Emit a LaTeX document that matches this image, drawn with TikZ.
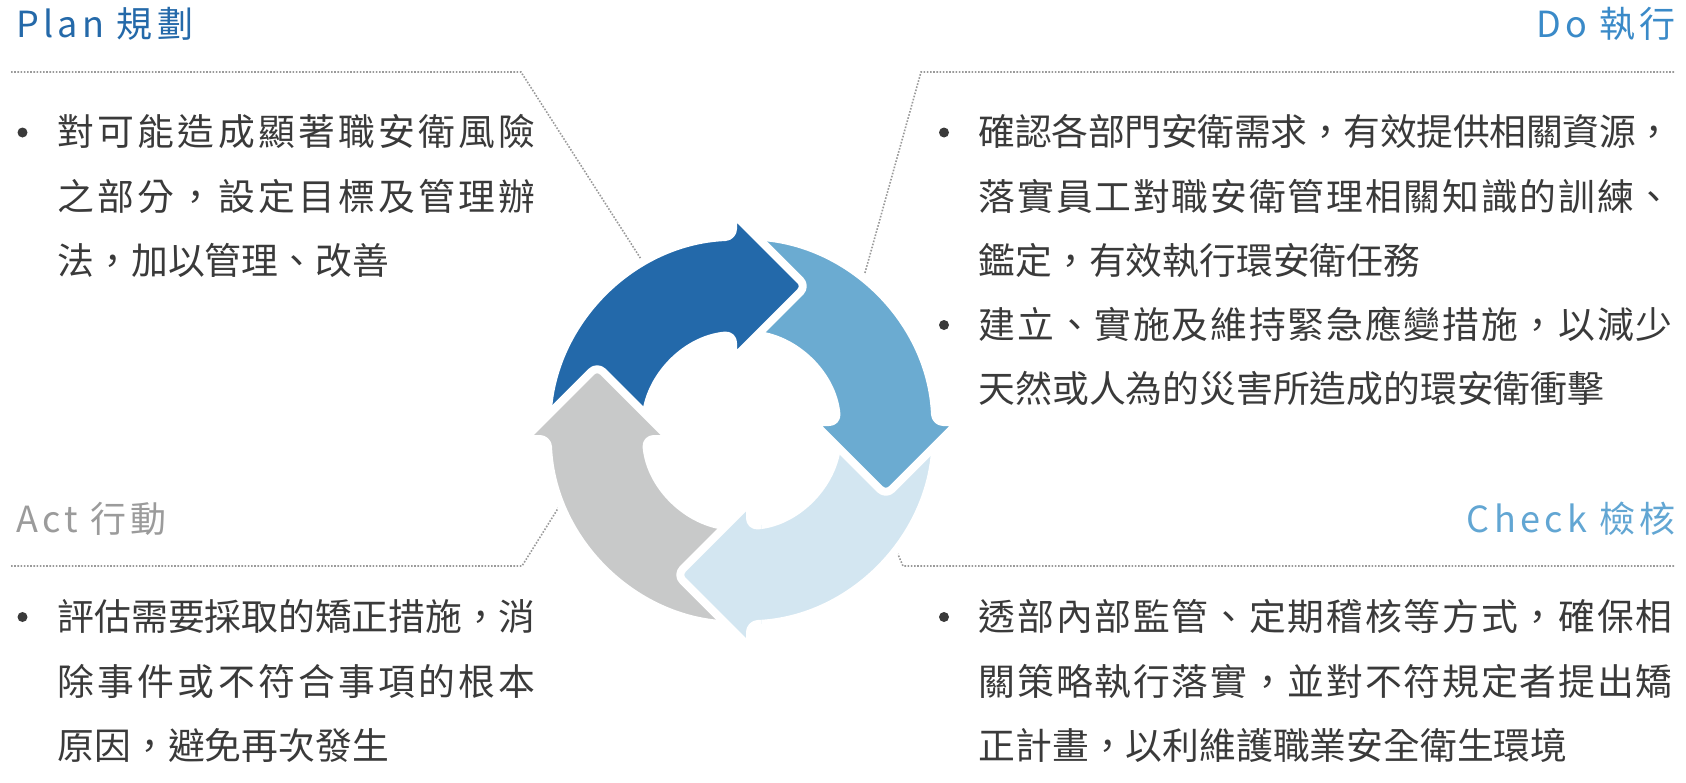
\documentclass[tikz,border=0pt]{standalone}
\usepackage{fontspec}
\setmainfont{Noto Sans CJK TC}
\newfontfamily\headfont[LetterSpace=12]{Noto Sans CJK TC}
\usepackage{tikz}
\definecolor{planblue}{HTML}{2469A9}
\definecolor{doblue}{HTML}{3A8AC8}
\definecolor{checkblue}{HTML}{62A6D3}
\definecolor{actgray}{HTML}{9B9B9B}
\definecolor{darkblue}{HTML}{2369AA}
\definecolor{lightblue}{HTML}{6BABD1}
\definecolor{paleblue}{HTML}{D3E6F1}
\definecolor{arrowgray}{HTML}{C8C9C9}
\definecolor{txt}{HTML}{3A3A3A}
\definecolor{dotgray}{HTML}{9A9A9A}
\tikzstyle{head}=[font=\headfont\fontsize{36}{40}\selectfont, inner sep=0pt]
\tikzstyle{body}=[font=\fontsize{36.8}{64.5}\selectfont, text=txt, inner sep=0pt, align=left]
\tikzstyle{bul}=[circle, fill=txt, inner sep=0pt, minimum size=10pt]
\tikzstyle{leader}=[draw=dotgray, line width=1.6pt, dash pattern=on 1.6pt off 1.6pt]
\tikzstyle{cyc}=[draw=white, line width=8pt, line join=round, rounded corners=8pt]
\makeatletter
\def\jusbox#1#2{\hbox to #1{\jus@first#2\relax}}
\def\jus@first#1{#1\jus@rest}
\def\jus@rest#1{\ifx\relax#1\else\hskip0pt plus1fil minus1pt#1\expandafter\jus@rest\fi}
\makeatother
\newcommand{\jusL}[1]{\jusbox{478pt}{#1}}
\newcommand{\jusR}[1]{\jusbox{694pt}{#1}}
\newcommand{\arrowpath}{(180:194) arc[start angle=180, end angle=92.51, radius=194] -- (-8.5,217.4) -- (64.55,144.35) -- (-8.5,71.3) -- (95.08:96) arc[start angle=95.08, end angle=180, radius=96] -- cycle}

\begin{document}
\begin{tikzpicture}[x=1pt, y=-1pt]
	\useasboundingbox (0,0) rectangle (1686,782);
	\coordinate (cen) at (741.5,430.5);
	\coordinate (planL) at (11,72);
	\coordinate (planK) at (521,72);
	\coordinate (planE) at (648,270);
	\coordinate (doR) at (1674,72);
	\coordinate (doK) at (921,72);
	\coordinate (doE) at (861,287);
	\coordinate (actL) at (11,566);
	\coordinate (actK) at (522,566);
	\coordinate (actE) at (567,494);
	\coordinate (checkR) at (1674,566);
	\coordinate (checkK) at (903,566);
	\coordinate (checkE) at (890,536);

	\draw[leader] (planL) -- (planK) -- (planE);
	\draw[leader] (doR) -- (doK) -- (doE);
	\draw[leader] (actL) -- (actK) -- (actE);
	\draw[leader] (checkR) -- (checkK) -- (checkE);

	\begin{scope}[shift={(cen)}, y=1pt]
		\path[cyc, fill=paleblue, rotate=180] \arrowpath;
		\path[cyc, fill=lightblue, rotate=-90] \arrowpath;
		\path[cyc, fill=darkblue] \arrowpath;
		\path[cyc, fill=arrowgray, rotate=90] \arrowpath;
		\begin{scope}
			\clip (-260,-30) rectangle (20,-260);
			\path[cyc, fill=paleblue, rotate=180] \arrowpath;
		\end{scope}
	\end{scope}

	\draw (16,37) node[head, anchor=base west, text=planblue] (plan) {Plan 規劃};
	\draw (1676,37) node[head, anchor=base east, text=doblue] (do) {Do 執行};
	\draw (16,532) node[head, anchor=base west, text=actgray] (act) {Act 行動};
	\draw (1676,532) node[head, anchor=base east, text=checkblue] (check) {Check 檢核};

	\draw (22.5,132.5) node[bul] (planbul) {};
	\draw (57.5,274.5) node[body, anchor=base west] (plantext) {\jusL{對可能造成顯著職安衛風險}\\\jusL{之部分，設定目標及管理辦}\\法，加以管理、改善};
	\draw (944,132.5) node[bul] (dobulA) {};
	\draw (978.5,274.5) node[body, anchor=base west] (dotextA) {\jusR{確認各部門安衛需求，有效提供相關資源，}\\\jusR{落實員工對職安衛管理相關知識的訓練、}\\鑑定，有效執行環安衛任務};
	\draw (944,325) node[bul] (dobulB) {};
	\draw (978.5,402.5) node[body, anchor=base west] (dotextB) {\jusR{建立、實施及維持緊急應變措施，以減少}\\天然或人為的災害所造成的環安衛衝擊};
	\draw (22.5,617) node[bul] (actbul) {};
	\draw (57.5,759.5) node[body, anchor=base west] (acttext) {\jusL{評估需要採取的矯正措施，消}\\\jusL{除事件或不符合事項的根本}\\原因，避免再次發生};
	\draw (944,617) node[bul] (checkbul) {};
	\draw (978.5,759.5) node[body, anchor=base west] (checktext) {\jusR{透部內部監管、定期稽核等方式，確保相}\\\jusR{關策略執行落實，並對不符規定者提出矯}\\正計畫，以利維護職業安全衛生環境};
\end{tikzpicture}
\end{document}
